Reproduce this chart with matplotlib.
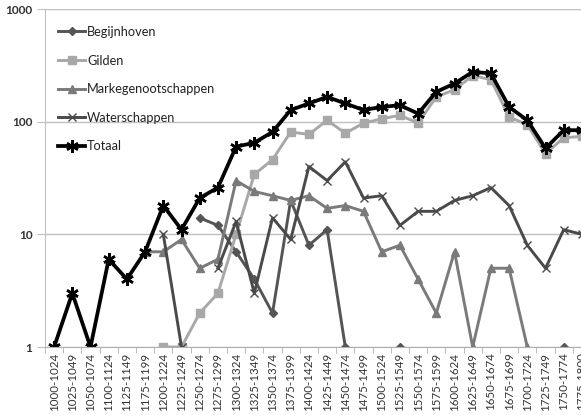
import matplotlib
matplotlib.use('Agg')
import matplotlib.pyplot as plt
import numpy as np

nan = np.nan

# periods (1075-1099 and 1150-1174 are not in the table)
periods = ["1000-1024", "1025-1049", "1050-1074", "1100-1124", "1125-1149",
           "1175-1199", "1200-1224", "1225-1249", "1250-1274", "1275-1299",
           "1300-1324", "1325-1349", "1350-1374", "1375-1399", "1400-1424",
           "1425-1449", "1450-1474", "1475-1499", "1500-1524", "1525-1549",
           "1550-1574", "1575-1599", "1600-1624", "1625-1649", "1650-1674",
           "1675-1699", "1700-1724", "1725-1749", "1750-1774", "1775-1800"]

begijnhoven = [nan, nan, nan, nan, nan, nan, nan, nan, 14, 12,
               7, 4, 2, 20, 8, 11, 1, nan, nan, 1,
               nan, nan, nan, nan, nan, nan, nan, nan, 1, nan]
gilden = [nan, nan, nan, nan, nan, nan, 1, 1, 2, 3,
          10, 34, 46, 81, 77, 103, 79, 97, 106, 114,
          97, 166, 192, 256, 236, 110, 94, 52, 72, 74]
markegenootschappen = [nan, nan, nan, nan, nan, 7, 7, 9, 5, 6,
                       30, 24, 22, 20, 22, 17, 18, 16, 7, 8,
                       4, 2, 7, 1, 5, 5, 1, nan, nan, nan]
waterschappen = [nan, nan, nan, nan, nan, nan, 10, 1, nan, 5,
                 13, 3, 14, 9, 40, 30, 44, 21, 22, 12,
                 16, 16, 20, 22, 26, 18, 8, 5, 11, 10]
totaal = [1, 3, 1, 6, 4, 7, 18, 11, 21, 26,
          60, 65, 81, 127, 145, 166, 145, 127, 135, 140,
          118, 184, 218, 277, 268, 135, 103, 58, 84, 84]

plt.rcParams['font.family'] = ['Lato', 'DejaVu Sans']

fig = plt.figure(figsize=(5.81, 4.15), dpi=100)
ax = fig.add_axes([45/581, 1 - 347/415, 546/581, 338/415])

x = np.arange(len(periods))
ax.plot(x, begijnhoven, color='#555555', lw=2.1, marker='D', ms=4.5, label='Begijnhoven')
ax.plot(x, gilden, color='#a8a8a8', lw=2.1, marker='s', ms=5.5, label='Gilden')
ax.plot(x, markegenootschappen, color='#7a7a7a', lw=2.1, marker='^', ms=6, label='Markegenootschappen')
ax.plot(x, waterschappen, color='#4a4a4a', lw=2.1, marker='x', ms=6, mew=1.0, label='Waterschappen')
ax.plot(x, totaal, color='black', lw=2.7, marker=(6, 2, 0), ms=9, mew=1.8, label='Totaal')

ax.set_yscale('log')
ax.set_ylim(1, 1000)
ax.set_xlim(-0.5, len(periods) - 0.5)
ax.set_yticks([1, 10, 100, 1000])
ax.set_yticklabels(['1', '10', '100', '1000'])
ax.minorticks_off()
ax.set_xticks(x)
ax.set_xticklabels(periods, rotation=90)
ax.set_xticks(np.arange(len(periods) + 1) - 0.5, minor=True)

ax.grid(axis='y', color='#c0c0c0', lw=1.0)
ax.set_axisbelow(True)
for s in ['top', 'right']:
    ax.spines[s].set_visible(False)
ax.spines['left'].set_color('#c0c0c0')
ax.spines['bottom'].set_color('#b0b0b0')
ax.tick_params(axis='y', length=6, color='#c0c0c0', labelsize=8.5, labelcolor='#333333', pad=3)
ax.tick_params(axis='x', which='major', length=0, labelsize=8.3, labelcolor='#333333', pad=4)
ax.tick_params(axis='x', which='minor', length=4, color='#b0b0b0')
for t in ax.get_yticklabels():
    t.set_fontweight('bold')

leg = ax.legend(loc='upper left', bbox_to_anchor=(0.015, 0.965), frameon=False,
                fontsize=9.2, handlelength=2.1, handletextpad=0.15, labelspacing=1.3,
                borderaxespad=0)
for t in leg.get_texts():
    t.set_color('#222222')

fig.savefig('out.png', dpi=100)
